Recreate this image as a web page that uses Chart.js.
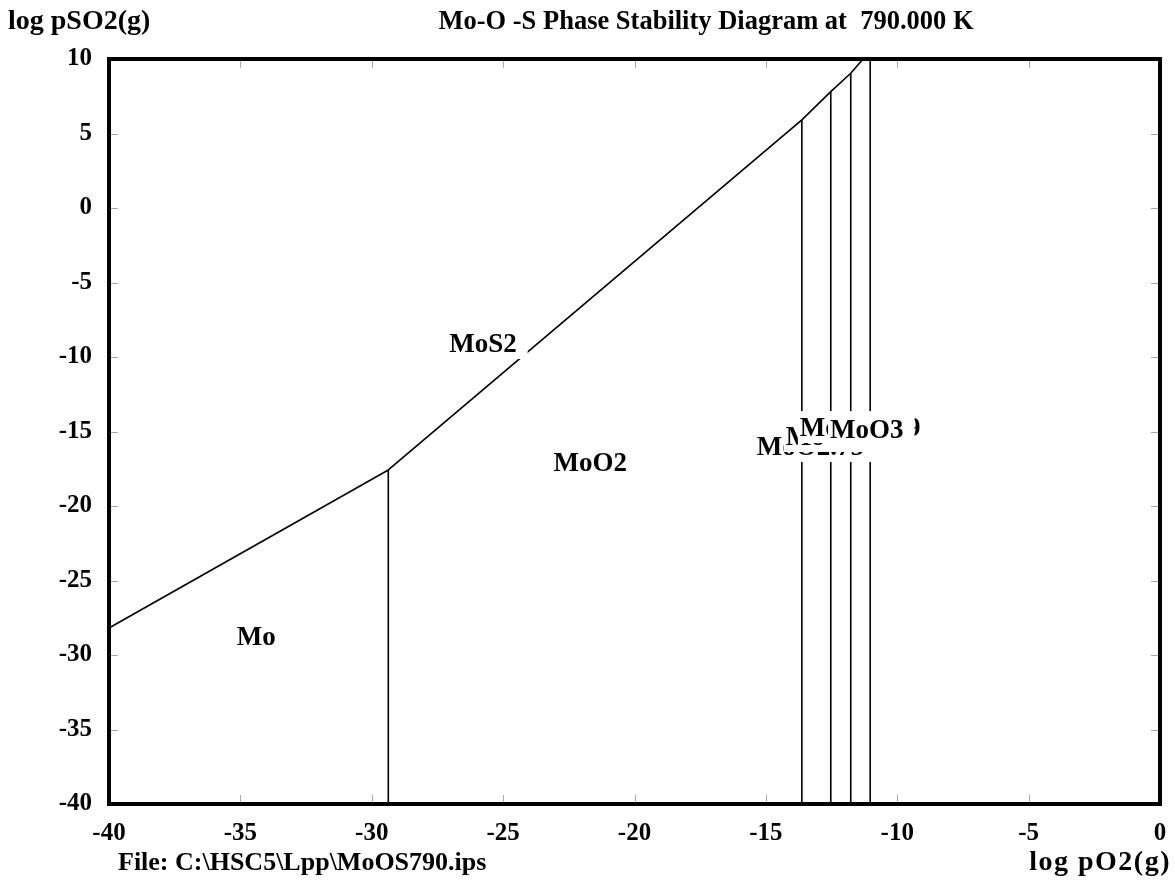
<!DOCTYPE html>
<html>
<head>
<meta charset="utf-8">
<script src="https://cdn.jsdelivr.net/npm/chart.js@4.4.0/dist/chart.umd.min.js"></script>
<style>
html,body{margin:0;padding:0;background:#fff;}
canvas{display:block;}
</style>
</head>
<body>
<canvas id="c" width="1175" height="896"></canvas>
<script>
// ---- data ----
const xTicks = [-40, -35, -30, -25, -20, -15, -10, -5, 0];
const yTicks = [-40, -35, -30, -25, -20, -15, -10, -5, 0, 5, 10];

// Mo / MoS2 boundary
const moMoS2X = [-40, -29.37];
const moMoS2Y = [-28.19, -17.58];
// MoS2 / oxides boundary
const sulfideX = [-29.37, -13.63, -12.53, -11.77, -11.30];
const sulfideY = [-17.58, 5.91, 7.81, 9.04, 10];
// vertical oxide boundaries (x, top y)
const vertX = [-29.37, -13.63, -12.53, -11.77, -11.03];
const vertTop = [-17.58, 5.91, 7.81, 9.04, 10];
const vertBottom = -40;

// region labels (drawn in this order, each on a white box)
const labelText = ["Mo", "MoS2", "MoO2", "MoO2.75", "MoO2.875", "MoO2.889", "MoO3"];
const labelX = [-34.40, -25.77, -21.68, -13.31, -11.95, -11.41, -11.16];
const labelY = [-28.79, -9.13, -17.11, -16.04, -15.37, -14.77, -14.90];

const titleText = "Mo-O -S Phase Stability Diagram at  790.000 K";
const yAxisTitle = "log pSO2(g)";
const xAxisTitle = "log pO2(g)";
const fileText = "File: C:\\HSC5\\Lpp\\MoOS790.ips";

// ---- build datasets ----
const lineStyle = {borderColor: '#000', borderWidth: 1.6, pointRadius: 0, showLine: true, fill: false, tension: 0};
const datasets = [];
datasets.push(Object.assign({data: moMoS2X.map((x, i) => ({x, y: moMoS2Y[i]}))}, lineStyle));
datasets.push(Object.assign({data: sulfideX.map((x, i) => ({x, y: sulfideY[i]}))}, lineStyle));
vertX.forEach((x, i) => {
  datasets.push(Object.assign({data: [{x, y: vertTop[i]}, {x, y: vertBottom}]}, lineStyle));
});

const SERIF = '"Liberation Serif", "Times New Roman", serif';

const decor = {
  id: 'decor',
  afterDatasetsDraw(chart) {
    const ctx = chart.ctx;
    const xs = chart.scales.x, ys = chart.scales.y;
    ctx.save();
    ctx.font = 'bold 27px ' + SERIF;
    ctx.textAlign = 'center';
    ctx.textBaseline = 'middle';
    labelText.forEach((t, i) => {
      const px = xs.getPixelForValue(labelX[i]);
      const py = ys.getPixelForValue(labelY[i]);
      const w = ctx.measureText(t).width;
      ctx.fillStyle = '#fff';
      ctx.fillRect(px - w / 2 - 2, py - 17, w + 13, 32);
      ctx.fillStyle = '#000';
      ctx.fillText(t, px, py + 1);
    });
    ctx.restore();
  },
  afterDraw(chart) {
    const ctx = chart.ctx;
    const a = chart.chartArea;
    const xs = chart.scales.x, ys = chart.scales.y;
    ctx.save();
    // inner ticks
    ctx.strokeStyle = '#a8a8a8';
    ctx.lineWidth = 1;
    ctx.beginPath();
    xTicks.forEach(v => {
      const px = Math.round(xs.getPixelForValue(v)) + 0.5;
      ctx.moveTo(px, a.bottom); ctx.lineTo(px, a.bottom - 9);
      ctx.moveTo(px, a.top); ctx.lineTo(px, a.top + 9);
    });
    yTicks.forEach(v => {
      const py = Math.round(ys.getPixelForValue(v)) + 0.5;
      ctx.moveTo(a.left, py); ctx.lineTo(a.left + 9, py);
      ctx.moveTo(a.right, py); ctx.lineTo(a.right - 9, py);
    });
    ctx.stroke();
    // frame
    ctx.strokeStyle = '#000';
    ctx.lineWidth = 4;
    ctx.strokeRect(a.left, a.top, a.right - a.left, a.bottom - a.top);
    // texts
    ctx.fillStyle = '#000';
    ctx.textBaseline = 'middle';
    ctx.font = 'bold 28px ' + SERIF;
    ctx.textAlign = 'left';
    ctx.fillText(yAxisTitle, 8, 22);
    ctx.font = 'bold 26.5px ' + SERIF;
    ctx.textAlign = 'center';
    ctx.fillText(titleText, 706, 22);
    ctx.font = 'bold 26px ' + SERIF;
    ctx.textAlign = 'left';
    ctx.fillText(fileText, 118, 863);
    ctx.textAlign = 'right';
    ctx.font = 'bold 28px ' + SERIF;
    ctx.letterSpacing = '1.5px';
    ctx.fillText(xAxisTitle, 1171, 863);
    ctx.restore();
  }
};

new Chart(document.getElementById('c'), {
  type: 'scatter',
  data: {datasets},
  options: {
    responsive: false,
    animation: false,
    devicePixelRatio: 1,
    layout: {padding: {left: 0, top: 59, right: 15, bottom: 0}},
    plugins: {legend: {display: false}, tooltip: {enabled: false}, title: {display: false}},
    scales: {
      x: {
        type: 'linear', min: -40, max: 0,
        afterFit: s => { s.height = 92; s.paddingRight = 0; s.paddingLeft = 0; },
        afterBuildTicks: s => { s.ticks = xTicks.map(v => ({value: v})); },
        grid: {display: false, drawTicks: false},
        border: {display: false},
        ticks: {color: '#000', padding: 15, font: {family: SERIF, size: 25, weight: 'bold'}, maxRotation: 0, autoSkip: false}
      },
      y: {
        type: 'linear', min: -40, max: 10,
        afterFit: s => { s.width = 109; s.paddingTop = 0; s.paddingBottom = 0; },
        afterBuildTicks: s => { s.ticks = yTicks.map(v => ({value: v})); },
        grid: {display: false, drawTicks: false},
        border: {display: false},
        ticks: {color: '#000', padding: 17, font: {family: SERIF, size: 25, weight: 'bold'}, autoSkip: false}
      }
    }
  },
  plugins: [decor]
});
</script>
</body>
</html>
